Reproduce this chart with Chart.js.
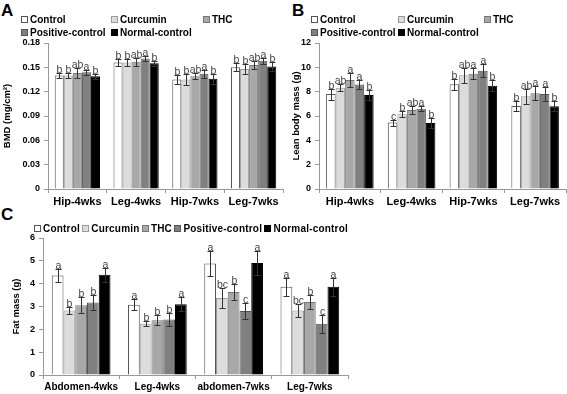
<!DOCTYPE html>
<html lang="en">
<head>
<meta charset="UTF-8" />
<title>BMD, lean body mass and fat mass</title>
<script src="https://cdn.jsdelivr.net/npm/chart.js"></script>
<style>
  body { margin: 0; background: #fff; font-family: "Liberation Sans", Arial, sans-serif; }
  #fig { position: relative; width: 567px; height: 394px; overflow: hidden; }
  canvas { position: absolute; }
  .tag { position: absolute; font-weight: bold; font-size: 17px; line-height: 17px; }
  .key { position: absolute; font-size: 10px; font-weight: bold; line-height: 12px; white-space: nowrap; }
  .key i { display: inline-block; width: 5px; height: 5px; border: 1px solid #666; margin-right: 2px; }
  #keyC { position: absolute; left: 34px; top: 223px; width: 314px; display: flex; justify-content: space-between;
          font-size: 10px; font-weight: bold; line-height: 12px; letter-spacing: 0.2px; white-space: nowrap; }
  #keyC i { display: inline-block; width: 5px; height: 5px; border: 1px solid #666; margin-right: 2px; }
</style>
</head>
<body>
<div id="fig">
  <div class="tag" style="left:1px;top:2px">A</div>
  <div class="tag" style="left:292px;top:2px">B</div>
  <div class="tag" style="left:1px;top:206px">C</div>
  <canvas id="chartA" width="285" height="210" style="left:0;top:0"></canvas>
  <canvas id="chartB" width="287" height="210" style="left:280px;top:0"></canvas>
  <canvas id="chartC" width="352" height="194" style="left:0;top:200px"></canvas>
  <div id="keyC"></div>
</div>

<script>
  // groups (one bar colour each)
  const groups = ['Control', 'Curcumin', 'THC', 'Positive-control', 'Normal-control'];

  // A - BMD
  const bmdSites = ['Hip-4wks', 'Leg-4wks', 'Hip-7wks', 'Leg-7wks'];
  const bmdMeans = [
    [0.140, 0.156, 0.135, 0.150],
    [0.140, 0.156, 0.135, 0.148],
    [0.143, 0.157, 0.139, 0.153],
    [0.144, 0.161, 0.142, 0.158],
    [0.139, 0.155, 0.136, 0.151]
  ];
  const bmdErrors = [
    [0.003, 0.004, 0.005, 0.005],
    [0.003, 0.004, 0.007, 0.006],
    [0.006, 0.005, 0.004, 0.005],
    [0.003, 0.003, 0.005, 0.004],
    [0.003, 0.003, 0.006, 0.005]
  ];
  const bmdLetters = [
    ['b', 'b', 'b', 'b'],
    ['b', 'b', 'b', 'b'],
    ['ab', 'ab', 'ab', 'ab'],
    ['a', 'a', 'a', 'a'],
    ['b', 'b', 'b', 'b']
  ];

  // B - lean body mass
  const leanSites = ['Hip-4wks', 'Leg-4wks', 'Hip-7wks', 'Leg-7wks'];
  const leanMeans = [
    [7.80, 5.46, 8.60, 6.83],
    [8.33, 6.15, 9.35, 7.62],
    [8.95, 6.50, 9.48, 7.88],
    [8.58, 6.60, 9.72, 7.80],
    [7.73, 5.42, 8.48, 6.80]
  ];
  const leanErrors = [
    [0.45, 0.25, 0.45, 0.40],
    [0.30, 0.25, 0.60, 0.60],
    [0.60, 0.35, 0.45, 0.55],
    [0.40, 0.20, 0.55, 0.60],
    [0.40, 0.40, 0.45, 0.40]
  ];
  const leanLetters = [
    ['b', 'c', 'b', 'b'],
    ['ab', 'b', 'ab', 'ab'],
    ['a', 'ab', 'a', 'a'],
    ['a', 'a', 'a', 'a'],
    ['b', 'b', 'b', 'b']
  ];

  // C - fat mass
  const fatSites = ['Abdomen-4wks', 'Leg-4wks', 'abdomen-7wks', 'Leg-7wks'];
  const fatMeans = [
    [4.36, 3.08, 4.88, 3.87],
    [2.83, 2.25, 3.37, 2.83],
    [3.06, 2.40, 3.64, 3.20],
    [3.17, 2.43, 2.80, 2.24],
    [4.39, 3.10, 4.91, 3.87]
  ];
  const fatErrors = [
    [0.30, 0.25, 0.55, 0.40],
    [0.17, 0.12, 0.43, 0.30],
    [0.35, 0.22, 0.35, 0.30],
    [0.32, 0.28, 0.35, 0.38],
    [0.30, 0.30, 0.52, 0.40]
  ];
  const fatLetters = [
    ['a', 'a', 'a', 'a'],
    ['b', 'b', 'bc', 'bc'],
    ['b', 'b', 'b', 'b'],
    ['b', 'b', 'c', 'c'],
    ['a', 'a', 'a', 'a']
  ];

  const fills = ['#ffffff', '#dcdcdc', '#a8a8a8', '#808080', '#000000'];
  const edges = ['#555555', '#999999', '#777777', '#555555', '#000000'];
  const FONT = '"Liberation Sans", Arial, sans-serif';

  // error bars + significance letters
  const errorBars = {
    id: 'errorBars',
    afterDatasetsDraw(chart) {
      const ctx = chart.ctx;
      const y = chart.scales.y;
      ctx.save();
      ctx.lineWidth = 1;
      ctx.strokeStyle = '#333';
      ctx.fillStyle = '#444';
      ctx.font = '10.5px ' + FONT;
      ctx.textAlign = 'center';
      ctx.textBaseline = 'alphabetic';
      chart.data.datasets.forEach((ds, i) => {
        chart.getDatasetMeta(i).data.forEach((bar, j) => {
          const v = ds.data[j], e = ds.errors[j];
          const x = Math.round(bar.x) + 0.5;
          const top = Math.round(y.getPixelForValue(v + e)) + 0.5;
          const bot = Math.round(y.getPixelForValue(v - e)) + 0.5;
          ctx.beginPath();
          ctx.moveTo(x, top); ctx.lineTo(x, bot);
          ctx.moveTo(x - 3, top); ctx.lineTo(x + 3, top);
          ctx.moveTo(x - 3, bot); ctx.lineTo(x + 3, bot);
          ctx.stroke();
          ctx.fillText(ds.letters[j], x, top - 1);
        });
      });
      ctx.restore();
    }
  };

  function makeChart(id, sites, means, errs, letters, o) {
    new Chart(document.getElementById(id), {
      type: 'bar',
      data: {
        labels: sites,
        datasets: groups.map((g, i) => ({
          label: g,
          data: means[i],
          errors: errs[i],
          letters: letters[i],
          backgroundColor: fills[i],
          borderColor: edges[i],
          borderWidth: 1,
          barPercentage: 1,
          categoryPercentage: 0.77
        }))
      },
      options: {
        responsive: false,
        animation: false,
        devicePixelRatio: 1,
        layout: { padding: { top: o.top, right: o.right, left: 0, bottom: 0 } },
        plugins: { legend: { display: false }, tooltip: { enabled: false } },
        scales: {
          x: {
            grid: { drawOnChartArea: false, tickLength: 4, color: '#999', offset: true },
            border: { color: '#999' },
            ticks: { color: '#000', padding: 2, maxRotation: 0, minRotation: 0, autoSkip: false,
                     font: { family: FONT, size: o.xSize, weight: 'bold' } },
            afterFit: s => { s.height = o.xHeight; }
          },
          y: {
            min: 0, max: o.max,
            grid: { drawOnChartArea: false, tickLength: 4, color: '#999' },
            border: { color: '#999' },
            ticks: { stepSize: o.step, color: '#000', padding: 4, font: { family: FONT, size: 9, weight: 'bold' } },
            title: {
              display: true, text: o.title, color: '#000',
              padding: { top: o.titlePad, bottom: 0 },
              font: { family: FONT, size: 9.5, weight: 'bold' }
            },
            afterFit: s => { s.width = o.yWidth; }
          }
        }
      },
      plugins: [errorBars]
    });
  }

  function keyItem(i) {
    return '<i style="background:' + fills[i] + ';border-color:' + edges[i] + '"></i>' + groups[i];
  }

  function makeKey(spots) {
    const fig = document.getElementById('fig');
    groups.forEach((g, i) => {
      const d = document.createElement('div');
      d.className = 'key';
      d.style.left = spots[i][0] + 'px';
      d.style.top = spots[i][1] + 'px';
      d.innerHTML = keyItem(i);
      fig.appendChild(d);
    });
  }

  makeChart('chartA', bmdSites, bmdMeans, bmdErrors, bmdLetters,
    { top: 43, right: 2, max: 0.18, step: 0.03, title: 'BMD (mg/cm\u00B2)', titlePad: 2, yWidth: 48, xHeight: 21, xSize: 11 });
  makeChart('chartB', leanSites, leanMeans, leanErrors, leanLetters,
    { top: 43, right: 1, max: 12, step: 2, title: 'Lean body mass (g)', titlePad: 11, yWidth: 39, xHeight: 21, xSize: 11 });
  makeChart('chartC', fatSites, fatMeans, fatErrors, fatLetters,
    { top: 38, right: 4, max: 6, step: 1, title: 'Fat mass (g)', titlePad: 11, yWidth: 43, xHeight: 19, xSize: 10 });

  makeKey([[21, 14], [111, 14], [203, 14], [21, 27], [111, 27]]);
  makeKey([[311, 14], [398, 14], [484, 14], [311, 27], [398, 27]]);
  document.getElementById('keyC').innerHTML = groups.map((g, i) => '<span>' + keyItem(i) + '</span>').join('');
</script>
</body>
</html>
